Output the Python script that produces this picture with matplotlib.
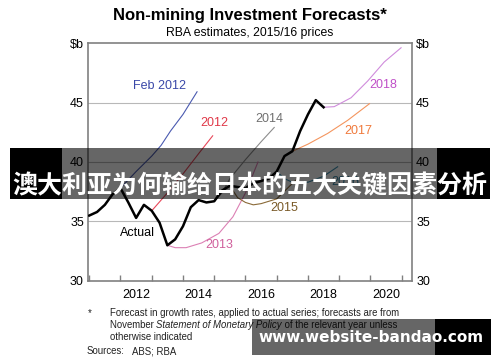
import numpy as np
import matplotlib
matplotlib.use('Agg')
import matplotlib.pyplot as plt
from matplotlib.patches import Rectangle

plt.rcParams['font.family'] = ['Liberation Sans', 'DejaVu Sans']

# Actual non-mining investment, quarterly ($b)
actual_q = np.arange(2010.5, 2018.01, 0.25)
actual = [35.5, 35.8, 36.4, 37.3, 37.8, 36.6, 35.3, 36.4, 35.9, 34.9,
          33.0, 33.5, 34.6, 36.2, 36.8, 36.6, 36.7, 37.6, 38.0, 37.9,
          37.8, 38.2, 38.4, 38.6, 39.2, 40.5, 40.9, 42.6, 44.0, 45.2, 44.6]

# Forecast paths (year, $b)
feb2012_x = [2011.5, 2012.0, 2012.5, 2012.8, 2013.1, 2013.5, 2013.95]
feb2012_y = [37.8, 39.2, 40.5, 41.4, 42.6, 44.0, 45.9]
f2012_x = [2012.5, 2013.0, 2013.5, 2014.0, 2014.45]
f2012_y = [35.9, 37.4, 39.0, 40.7, 42.2]
f2013_x = [2013.0, 2013.25, 2013.6, 2014.1, 2014.65, 2015.1, 2015.5, 2015.9]
f2013_y = [33.0, 32.8, 32.8, 33.2, 34.0, 35.4, 37.4, 40.0]
f2014_x = [2014.5, 2014.75, 2015.0, 2015.5, 2016.0, 2016.42]
f2014_y = [36.7, 37.4, 38.6, 40.2, 41.7, 42.9]
f2015_x = [2015.0, 2015.25, 2015.5, 2015.75, 2016.0, 2016.5, 2017.0, 2017.25]
f2015_y = [38.0, 37.0, 36.6, 36.4, 36.5, 36.9, 38.2, 38.8]
f2016_x = [2016.5, 2016.75, 2017.0, 2017.5, 2018.0, 2018.45]
f2016_y = [39.2, 38.6, 38.3, 38.3, 38.8, 39.6]
f2017_x = [2017.0, 2017.5, 2018.13, 2018.77, 2019.47]
f2017_y = [40.9, 41.5, 42.4, 43.5, 44.9]
f2018_x = [2018.0, 2018.34, 2018.88, 2019.41, 2019.94, 2020.48]
f2018_y = [44.6, 44.65, 45.4, 46.8, 48.4, 49.6]

fig = plt.figure(figsize=(5, 3.62), dpi=100)
ax = fig.add_axes([0.176, 0.2238, 0.648, 0.6574])

for v in [35, 40, 45]:
    ax.axhline(v, color='#b8b8b8', lw=0.8, zorder=0)

ax.plot(feb2012_x, feb2012_y, color='#4a5ab0', lw=0.8)
ax.plot(f2012_x, f2012_y, color='#e8485a', lw=0.8)
ax.plot(f2013_x, f2013_y, color='#dc80b4', lw=0.8)
ax.plot(f2014_x, f2014_y, color='#8c8c8c', lw=0.8)
ax.plot(f2015_x, f2015_y, color='#8a6a38', lw=0.8)
ax.plot(f2016_x, f2016_y, color='#3d8fb0', lw=0.8)
ax.plot(f2017_x, f2017_y, color='#f4955e', lw=0.8)
ax.plot(f2018_x, f2018_y, color='#d08cdc', lw=0.8)
ax.plot(actual_q, actual, color='black', lw=1.8, zorder=5)

lab = dict(fontsize=9, ha='center', va='center')
ax.text(2012.75, 46.4, 'Feb 2012', color='#3a48a8', **lab)
ax.text(2014.5, 43.3, '2012', color='#e03848', **lab)
ax.text(2014.65, 33.0, '2013', color='#d0609c', **lab)
ax.text(2012.05, 34.0, 'Actual', color='black', **lab)
ax.text(2016.25, 43.6, '2014', color='#707070', **lab)
ax.text(2016.75, 36.1, '2015', color='#7a5a28', **lab)
ax.text(2018.7, 38.3, '2016', color='#3a88a8', **lab)
ax.text(2019.1, 42.6, '2017', color='#f07a3c', **lab)
ax.text(2019.9, 46.5, '2018', color='#c050c8', **lab)

ax.set_xlim(2010.46, 2020.83)
ax.set_ylim(30, 50)
ax.set_xticks([2012, 2014, 2016, 2018, 2020])
ax.set_xticks(np.arange(2010.5, 2020.6, 1.0), minor=True)
ax.tick_params(axis='x', which='major', length=0, labelsize=9, pad=6)
ax.tick_params(axis='x', which='minor', direction='in', length=4,
               color='#808080', width=1)
ax.set_yticks([30, 35, 40, 45, 50])
ax.set_yticklabels(['30', '35', '40', '45', r'\$b'])
ax.tick_params(axis='y', length=0, labelsize=9, labelleft=True,
               labelright=True, pad=3)
for s in ax.spines.values():
    s.set_color('#808080')
    s.set_linewidth(1.2)

fig.text(0.5, 0.958, 'Non-mining Investment Forecasts*', ha='center',
         va='center', fontsize=12, fontweight='bold')
fig.text(0.5, 0.909, 'RBA estimates, 2015/16 prices', ha='center',
         va='center', fontsize=8.8)

# footnote
fs = 6.9
fn = dict(fontsize=fs, va='center', color='#222222')
fig.text(0.176, 0.135, '*', **fn)
fig.text(0.22, 0.135, 'Forecast in growth rates, applied to actual series; '
         'forecasts are from', **fn)
t1 = fig.text(0.22, 0.089, 'November ', fontsize=fs, va='bottom',
              color='#222222')
t2 = ax.annotate('Statement of Monetary Policy', xy=(1, 0), xycoords=t1,
                 va='bottom', ha='left', fontsize=fs, style='italic',
                 color='#222222', annotation_clip=False)
ax.annotate(' of the relevant year unless', xy=(1, 0), xycoords=t2,
            va='bottom', ha='left', fontsize=fs, color='#222222',
            annotation_clip=False)
fig.text(0.22, 0.069, 'otherwise indicated', **fn)
fig.text(0.174, 0.030, 'Sources:', **fn)
fig.text(0.264, 0.030, 'ABS; RBA', **fn)

# overlay banner
ov = dict(transform=fig.transFigure, zorder=10, lw=0)
fig.patches.append(Rectangle((0.02, 0.4503), 0.104, 0.1409, color='black', **ov))
fig.patches.append(Rectangle((0.124, 0.4503), 0.75, 0.1409, color='black',
                             alpha=0.6, **ov))
fig.patches.append(Rectangle((0.874, 0.4503), 0.106, 0.1409, color='black', **ov))
fig.text(0.5, 0.487, '澳大利亚为何输给日本的五大关键因素分析', ha='center',
         va='center', fontsize=18, fontweight='bold', color='white',
         family=['Noto Sans CJK SC', 'DejaVu Sans'], zorder=11)

# watermark
fig.patches.append(Rectangle((0.504, 0.0193), 0.366, 0.0994, color='black',
                             alpha=0.6, **ov))
fig.patches.append(Rectangle((0.87, 0.0193), 0.112, 0.0994, color='black', **ov))
fig.text(0.742, 0.069, 'www.website-bandao.com', ha='center', va='center',
         fontsize=11, fontweight='bold', color='white',
         family=['DejaVu Sans'], zorder=11)

fig.savefig('out.png', dpi=100)
